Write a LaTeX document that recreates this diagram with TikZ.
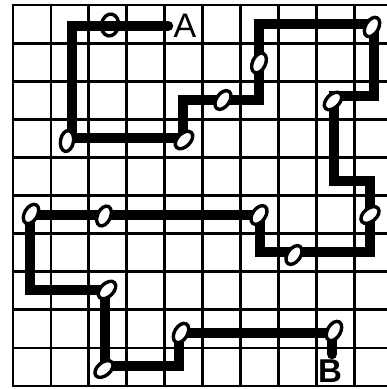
\documentclass[tikz,border=0pt]{standalone}
\usepackage{fontspec}
\setsansfont{Liberation Sans}
\usetikzlibrary{shapes.geometric}
\begin{document}
\begin{tikzpicture}[x=1pt,y=-1pt,
  gridline/.style={line width=2.8pt, black, line cap=rect},
  route/.style={line width=10.5pt, line join=miter, line cap=round},
  knot/.style={ellipse, draw, fill=white, line width=3.4pt, minimum width=21pt, minimum height=13pt, inner sep=0pt},
  letter/.style={font=\sffamily\fontsize{34}{34}\selectfont, inner sep=0pt}]
\useasboundingbox (0,0) rectangle (387,389);
\fill[white] (0,0) rectangle (387,389);
% grid
\foreach \i in {0,...,9} \draw[gridline] ({13+37.9*\i},5) -- ({13+37.9*\i},386);
\foreach \j in {0,...,10} \draw[gridline] (13,{5+38.1*\j}) -- (387,{5+38.1*\j});
% route corners
\coordinate (a0) at (168,26);
\coordinate (a1) at (72,26);
\coordinate (a2) at (72,138);
\coordinate (a3) at (183,138);
\coordinate (a4) at (183,100);
\coordinate (a5) at (259,100);
\coordinate (a6) at (259,24);
\coordinate (a7) at (374,24);
\coordinate (a8) at (374,96);
\coordinate (a9) at (334,96);
\coordinate (a10) at (334,181);
\coordinate (a11) at (370,181);
\coordinate (a12) at (370,252);
\coordinate (a13) at (260,252);
\coordinate (a14) at (260,215);
\coordinate (a15) at (30,215);
\coordinate (a16) at (30,290);
\coordinate (a17) at (105,290);
\coordinate (a18) at (105,366);
\coordinate (a19) at (179,366);
\coordinate (a20) at (179,333);
\coordinate (a21) at (332,333);
\coordinate (a22) at (332,354);
% knot that the route passes through
\node[knot, minimum width=22pt, minimum height=17pt, rotate=80] (k1) at (110,25) {};
% route
\draw[route] (a0) -- (a1) -- (a2) -- (a3) -- (a4) -- (a5) -- (a6) -- (a7) -- (a8) -- (a9) -- (a10) -- (a11) -- (a12) -- (a13) -- (a14) -- (a15) -- (a16) -- (a17) -- (a18) -- (a19) -- (a20) -- (a21) -- (a22);
% knots on top
\node[knot, rotate=80] (k2) at (67,141) {};
\node[knot, rotate=45] (k3) at (184,140) {};
\node[knot, rotate=55] (k4) at (223,100) {};
\node[knot, rotate=65] (k5) at (259,63) {};
\node[knot, rotate=60] (k6) at (372,27) {};
\node[knot, rotate=45] (k7) at (333,101) {};
\node[knot, rotate=40] (k8) at (370,215) {};
\node[knot, rotate=55] (k9) at (294,255) {};
\node[knot, rotate=55] (k10) at (259,215) {};
\node[knot, rotate=65] (k11) at (104,216) {};
\node[knot, rotate=60] (k12) at (31,214) {};
\node[knot, rotate=45] (k13) at (107,290) {};
\node[knot, rotate=40] (k14) at (104,369) {};
\node[knot, rotate=60] (k15) at (181,333) {};
\node[knot, rotate=60] (k16) at (334,331) {};
% labels
\node[letter] (A) at (185,26) {A};
\node[letter, font=\sffamily\bfseries\fontsize{33}{33}\selectfont] (B) at (330,371) {B};
\end{tikzpicture}
\end{document}
